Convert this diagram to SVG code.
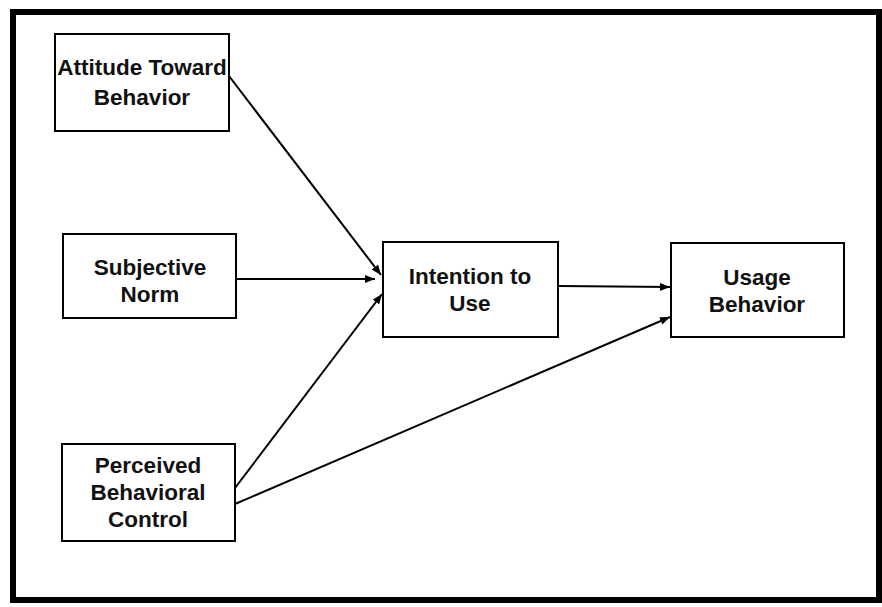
<svg xmlns="http://www.w3.org/2000/svg" width="882" height="607" viewBox="0 0 882 607">
<style>
.box{fill:#fff;stroke:#000;stroke-width:2}
.lbl{font-family:"Liberation Sans",Arial,sans-serif;font-weight:bold;font-size:22.5px;fill:#111;text-anchor:middle}
.edge{stroke:#000;stroke-width:2;fill:none;marker-end:url(#ah)}
</style>
<defs>
<marker id="ah" viewBox="0 0 10 8" refX="10" refY="4" markerWidth="10" markerHeight="8" markerUnits="userSpaceOnUse" orient="auto">
<path d="M0,0 L10,4 L0,8 Z" fill="#000"/>
</marker>
</defs>
<rect x="0" y="0" width="882" height="607" fill="#fff"/>
<rect id="frame" x="13" y="12" width="866" height="588" fill="none" stroke="#000" stroke-width="6"/>
<g id="connectors">
<line class="edge" x1="229" y1="76" x2="381" y2="275"/>
<line class="edge" x1="236" y1="279" x2="375" y2="279"/>
<line class="edge" x1="235" y1="488" x2="382" y2="294"/>
<line class="edge" x1="558" y1="286" x2="670" y2="287"/>
<line class="edge" x1="235" y1="504" x2="670" y2="317"/>
</g>
<g id="attitude">
<rect class="box" x="55" y="34" width="174" height="97"/>
<text class="lbl" x="142" y="75">Attitude Toward</text>
<text class="lbl" x="142" y="105">Behavior</text>
</g>
<g id="subjective">
<rect class="box" x="63" y="234" width="173" height="84"/>
<text class="lbl" x="150" y="275">Subjective</text>
<text class="lbl" x="150" y="302">Norm</text>
</g>
<g id="perceived">
<rect class="box" x="62" y="444" width="173" height="97"/>
<text class="lbl" x="148" y="473">Perceived</text>
<text class="lbl" x="148" y="500">Behavioral</text>
<text class="lbl" x="148" y="527">Control</text>
</g>
<g id="intention">
<rect class="box" x="383" y="242" width="175" height="95"/>
<text class="lbl" x="470" y="284">Intention to</text>
<text class="lbl" x="470" y="311">Use</text>
</g>
<g id="usage">
<rect class="box" x="671" y="243" width="173" height="94"/>
<text class="lbl" x="757" y="285">Usage</text>
<text class="lbl" x="757" y="312">Behavior</text>
</g>
</svg>
